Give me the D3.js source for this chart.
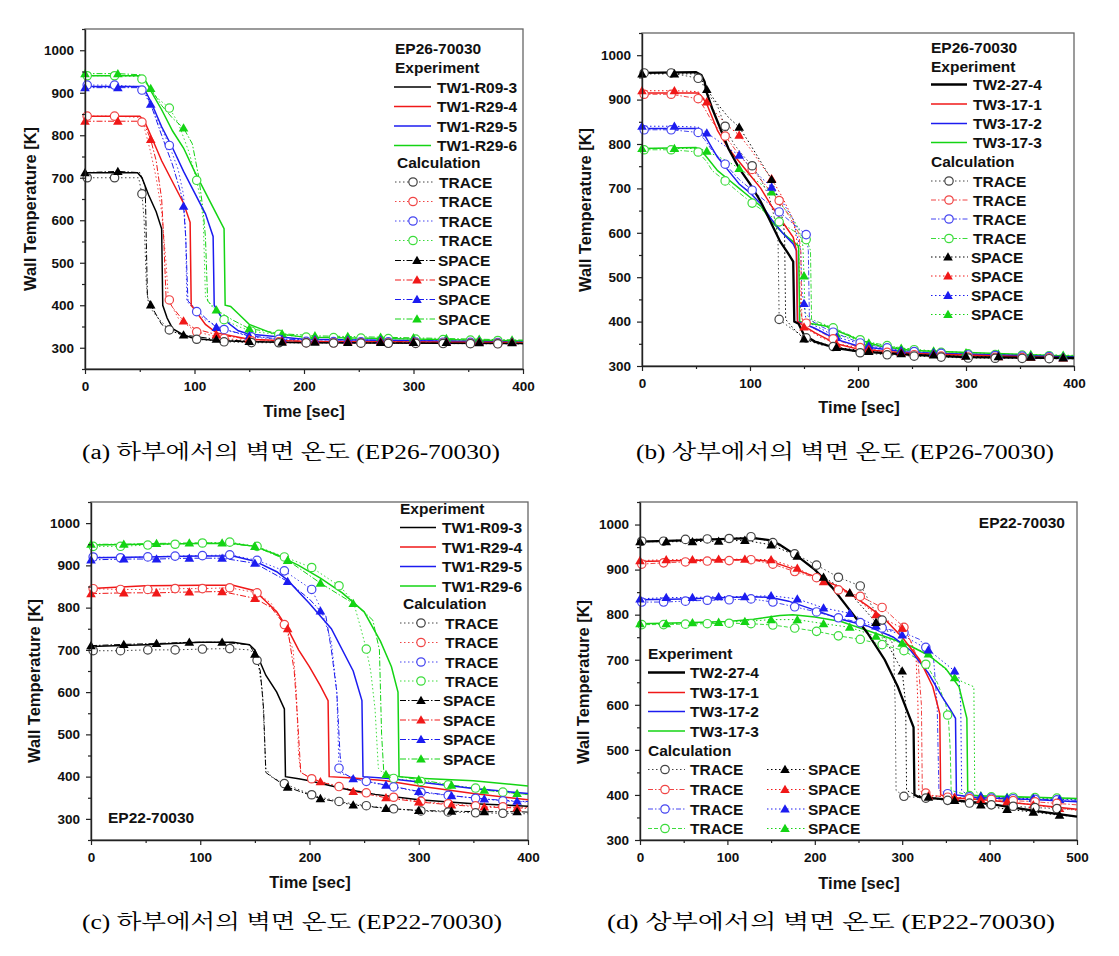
<!DOCTYPE html>
<html><head><meta charset="utf-8">
<script src="https://cdn.jsdelivr.net/npm/d3@7"></script>
<style>
body{margin:0;background:#fff}
svg{display:block}
text{font-family:"Liberation Sans",Arial,sans-serif;font-weight:bold;fill:#111}
.cap{font-family:"Liberation Serif","Noto Serif CJK KR","Noto Sans CJK KR",serif;font-weight:normal;fill:#000}
</style></head>
<body><svg id="c" width="1119" height="956"></svg>
<script>
// ---------------- DATA ----------------
const xTicks400 = [0,100,200,300,400];
const xTicks500 = [0,100,200,300,400,500];
const yTicks = [300,400,500,600,700,800,900,1000];
const namesLower = ["TW1-R09-3","TW1-R29-4","TW1-R29-5","TW1-R29-6"];
const namesUpper = ["TW2-27-4","TW3-17-1","TW3-17-2","TW3-17-3"];
const calcNames = ["TRACE","SPACE"];
const captions = ["(a) 하부에서의 벽면 온도 (EP26-70030)","(b) 상부에서의 벽면 온도 (EP26-70030)",
                  "(c) 하부에서의 벽면 온도 (EP22-70030)","(d) 상부에서의 벽면 온도 (EP22-70030)"];

// Panel (a): EP26-70030 lower
const aExp = [
 [[0,712],[48,712],[52,700],[58,660],[65,620],[70,580],[71,400],[75,370],[80,345],[90,330],[100,322],[120,317],[150,314],[200,312],[400,310]],
 [[0,845],[50,845],[54,835],[60,800],[70,740],[80,690],[90,640],[96,595],[97,400],[100,390],[110,355],[120,335],[150,320],[200,315],[400,312]],
 [[0,915],[50,915],[55,905],[60,880],[70,820],[80,770],[90,715],[100,665],[110,615],[117,562],[118,400],[125,370],[140,340],[150,332],[200,320],[400,313]],
 [[0,940],[52,940],[56,925],[60,905],[70,860],[80,810],[90,770],[100,715],[110,665],[120,615],[127,580],[128,400],[133,397],[140,380],[150,355],[170,335],[200,325],[400,316]]
];
const aTrace = [
 [[0,700],[27,700],[49,700],[52,662],[54,600],[56,450],[58,400],[65,375],[77,342],[90,328],[102,320],[127,314],[153,312],[400,309]],
 [[0,845],[27,845],[50,842],[54,820],[60,760],[65,700],[70,620],[74,500],[76,420],[78,405],[85,370],[101,338],[127,322],[153,316],[200,312],[400,310]],
 [[0,918],[27,918],[50,914],[55,895],[62,860],[70,815],[77,776],[85,720],[90,660],[92,560],[93,410],[96,400],[102,385],[110,365],[127,343],[153,325],[200,315],[400,312]],
 [[0,940],[27,940],[50,938],[58,915],[65,890],[77,864],[85,830],[95,760],[102,694],[106,640],[108,600],[110,420],[115,400],[127,366],[140,350],[153,338],[200,325],[400,316]]
];
const aSpace = [
 [[0,712],[30,715],[50,712],[55,680],[57,420],[60,401],[70,355],[80,338],[90,330],[120,320],[150,315],[180,313],[400,312]],
 [[0,833],[30,833],[52,833],[56,815],[60,790],[65,740],[70,650],[72,550],[74,420],[80,395],[90,363],[100,345],[120,331],[150,320],[180,316],[400,313]],
 [[0,912],[30,912],[52,912],[56,895],[60,873],[70,800],[80,730],[88,660],[90,633],[92,560],[94,410],[100,395],[110,370],[120,348],[150,328],[180,320],[400,314]],
 [[0,945],[30,945],[52,942],[56,925],[60,910],[70,870],[80,840],[90,817],[98,780],[104,700],[108,620],[110,560],[112,410],[120,389],[135,365],[150,345],[180,333],[210,328],[400,318]]
];

// Panel (b): EP26-70030 upper
const bExp = [
 [[0,960],[50,962],[55,955],[58,940],[60,915],[65,880],[70,850],[80,790],[90,745],[100,710],[110,670],[120,620],[128,580],[135,555],[140,535],[141,400],[145,395],[150,370],[160,355],[180,340],[200,333],[250,325],[300,320],[400,318]],
 [[0,915],[52,915],[56,905],[60,890],[70,830],[80,790],[90,760],[100,730],[110,700],[120,660],[130,625],[140,590],[143,560],[144,400],[150,390],[160,375],[180,350],[200,338],[250,328],[400,318]],
 [[0,835],[52,835],[58,820],[65,790],[70,770],[80,740],[90,710],[100,690],[110,665],[120,630],[130,600],[140,575],[143,560],[144,400],[150,395],[160,385],[180,360],[200,345],[250,330],[400,320]],
 [[0,790],[50,792],[55,785],[60,770],[70,740],[80,720],[90,700],[100,680],[110,660],[120,625],[130,600],[140,580],[145,570],[146,400],[150,398],[170,390],[180,380],[200,360],[220,345],[250,335],[400,322]]
];
const bTrace = [
 [[0,960],[27,960],[52,948],[56,935],[62,910],[70,885],[76,845],[85,800],[95,770],[102,751],[110,720],[118,680],[124,620],[126,580],[127,405],[135,390],[150,365],[175,345],[201,330],[228,325],[254,322],[300,318],[400,316]],
 [[0,912],[27,912],[52,902],[58,880],[65,850],[78,815],[90,775],[103,740],[115,705],[128,670],[138,630],[145,600],[147,560],[148,405],[155,390],[178,360],[204,340],[229,330],[254,325],[280,322],[305,320],[400,318]],
 [[0,832],[27,832],[52,826],[58,810],[65,785],[78,752],[90,720],[103,694],[115,670],[128,645],[140,620],[152,596],[154,560],[155,405],[165,390],[178,375],[204,350],[229,340],[254,332],[300,325],[400,320]],
 [[0,787],[27,787],[52,782],[60,760],[65,740],[78,715],[90,690],[103,665],[115,645],[128,623],[140,605],[150,590],[153,582],[156,560],[157,405],[178,385],[204,357],[229,345],[254,336],[280,330],[305,327],[400,322]]
];
const bSpace = [
 [[0,958],[30,958],[52,958],[60,923],[70,890],[80,860],[90,838],[100,800],[110,760],[120,720],[128,660],[132,600],[133,405],[140,385],[150,361],[165,348],[180,342],[210,333],[240,328],[300,322],[400,318]],
 [[0,920],[30,920],[52,918],[60,895],[70,865],[80,840],[90,820],[100,790],[110,755],[120,722],[130,680],[140,630],[145,560],[147,420],[150,388],[165,365],[180,350],[210,338],[240,330],[300,322],[400,318]],
 [[0,840],[30,840],[52,838],[60,825],[70,808],[80,790],[90,775],[100,750],[110,725],[120,703],[130,670],[140,630],[147,560],[148,470],[150,441],[152,400],[165,385],[180,365],[210,345],[240,335],[300,325],[400,320]],
 [[0,790],[30,790],[52,790],[60,784],[70,772],[80,760],[90,745],[100,728],[110,710],[120,692],[130,660],[140,630],[145,610],[149,570],[150,503],[151,420],[158,400],[170,390],[180,372],[210,352],[240,340],[270,334],[300,330],[330,327],[400,324]]
];

// Panel (c): EP22-70030 lower
const cExp = [
 [[0,708],[50,712],[100,718],[130,718],[145,712],[150,700],[155,670],[160,640],[170,600],[177,560],[178,400],[190,395],[200,390],[230,372],[260,358],[300,345],[350,336],[400,330]],
 [[0,845],[50,852],[100,853],[130,853],[150,840],[160,815],[170,790],[180,750],[190,700],[200,660],[210,615],[217,580],[218,400],[240,397],[270,390],[300,378],[350,360],[400,345]],
 [[0,918],[50,920],[100,922],[130,922],[150,910],[170,885],[180,865],[200,810],[220,750],[240,650],[248,580],[249,400],[270,396],[300,387],[350,372],[400,360]],
 [[0,948],[50,950],[100,952],[130,952],[150,945],[170,925],[190,900],[210,870],[230,835],[250,790],[265,720],[275,660],[281,600],[282,400],[300,396],[350,390],[400,378]]
];
const cTrace = [
 [[0,698],[26,698],[51,700],[77,700],[102,702],[127,703],[145,700],[150,690],[153,668],[157,600],[160,420],[165,400],[178,382],[204,355],[229,340],[255,330],[280,323],[306,318],[331,316],[357,314],[382,313],[400,312]],
 [[0,845],[26,843],[51,843],[77,845],[102,845],[127,847],[152,835],[165,810],[177,760],[185,700],[188,600],[190,450],[192,410],[202,395],[229,375],[255,360],[280,350],[306,340],[331,335],[357,330],[382,328],[400,327]],
 [[0,920],[26,918],[51,920],[77,922],[102,923],[127,925],[152,912],[177,887],[202,843],[210,800],[220,720],[225,600],[227,420],[228,408],[253,388],[278,375],[304,362],[329,355],[355,348],[380,342],[400,340]],
 [[0,945],[26,945],[51,948],[77,950],[102,953],[127,955],[152,945],[177,920],[202,895],[228,850],[240,815],[246,760],[252,702],[256,650],[260,560],[263,420],[270,400],[278,395],[304,388],[329,380],[355,372],[380,362],[400,358]]
];
const cSpace = [
 [[0,710],[30,713],[60,715],[90,718],[120,718],[145,712],[150,690],[155,650],[158,560],[160,410],[165,400],[180,375],[210,348],[240,333],[270,325],[300,320],[330,318],[360,317],[390,317],[400,316]],
 [[0,833],[30,835],[60,835],[90,837],[120,838],[150,822],[165,800],[180,750],[186,650],[189,540],[192,410],[200,398],[210,388],[240,365],[270,350],[300,340],[330,333],[360,328],[390,326],[400,325]],
 [[0,913],[30,915],[60,915],[90,917],[120,917],[150,905],[180,862],[200,820],[210,792],[215,780],[220,700],[225,600],[228,450],[230,410],[240,395],[270,380],[300,365],[330,355],[360,347],[390,342],[400,341]],
 [[0,950],[30,950],[60,952],[90,953],[120,953],[150,945],[180,912],[210,858],[240,810],[250,790],[258,770],[264,700],[266,500],[268,410],[270,405],[300,393],[330,380],[360,368],[390,360],[400,358]]
];

// Panel (d): EP22-70030 upper
const dExp = [
 [[0,962],[50,965],[100,968],[130,970],[150,965],[160,955],[180,930],[200,900],[220,860],[240,810],[260,760],[280,700],[295,640],[305,590],[313,550],[314,400],[320,395],[350,390],[400,380],[450,365],[500,352]],
 [[0,918],[50,920],[100,922],[130,922],[150,918],[170,905],[200,885],[230,860],[260,820],[280,790],[300,750],[320,700],[335,640],[343,580],[344,400],[360,393],[400,388],[450,378],[500,368]],
 [[0,833],[50,835],[100,838],[130,840],[150,838],[170,830],[200,810],[230,790],[260,775],[290,750],[310,720],[330,670],[345,620],[355,590],[361,570],[362,400],[380,395],[400,393],[450,390],[500,385]],
 [[0,780],[50,782],[100,785],[130,790],[160,798],[175,800],[200,795],[230,785],[260,765],[290,745],[310,730],[330,710],[350,680],[365,640],[374,570],[375,400],[390,398],[450,395],[500,392]]
];
const dTrace = [
 [[0,963],[27,963],[52,967],[77,968],[102,969],[127,973],[150,962],[178,934],[202,910],[227,883],[253,863],[265,820],[280,780],[290,730],[292,600],[293,410],[302,397],[327,393],[352,388],[377,382],[402,378],[450,372],[500,368]],
 [[0,912],[27,915],[52,917],[77,919],[102,920],[127,922],[152,912],[178,895],[202,882],[227,855],[253,840],[278,815],[302,772],[310,740],[318,700],[322,600],[323,410],[330,400],[352,395],[377,392],[402,390],[450,385],[500,378]],
 [[0,828],[27,828],[52,830],[77,832],[102,833],[127,835],[152,828],[178,817],[202,806],[227,793],[253,782],[278,770],[302,760],[320,745],[330,720],[336,700],[340,600],[342,410],[353,402],[380,395],[400,393],[500,388]],
 [[0,778],[27,778],[52,779],[77,780],[102,781],[127,780],[152,777],[178,770],[202,763],[227,753],[253,745],[278,733],[302,720],[327,690],[340,650],[350,600],[353,566],[355,500],[356,410],[378,398],[400,396],[500,392]]
];
const dSpace = [
 [[0,962],[30,962],[60,962],[90,963],[120,965],[150,955],[180,930],[210,883],[240,848],[270,783],[300,675],[304,600],[305,410],[315,400],[330,395],[360,388],[390,378],[420,368],[450,362],[480,355],[500,352]],
 [[0,920],[30,922],[60,922],[90,923],[120,923],[150,922],[180,903],[210,873],[240,848],[270,800],[300,770],[310,740],[316,700],[318,600],[319,410],[330,398],[360,395],[390,390],[420,385],[450,378],[480,370],[500,366]],
 [[0,835],[30,838],[60,838],[90,840],[120,840],[150,842],[180,835],[210,815],[240,803],[270,775],[300,755],[330,722],[360,675],[365,660],[367,600],[368,410],[375,400],[390,397],[420,393],[450,392],[480,390],[500,389]],
 [[0,780],[30,780],[60,782],[90,783],[120,785],[150,789],[180,789],[210,780],[240,772],[270,752],[300,737],[330,713],[360,660],[370,650],[382,640],[383,410],[390,398],[420,395],[450,393],[480,390],[500,390]]
];

// ---------------- STYLE ----------------
const colors = ["#000000","#f01818","#1c1cf0","#14d414"];
const traceColors = ["#444444","#f04545","#4545f0","#3cdc3c"];
const svg = d3.select("#c");

const panels = [
 {box:[85,523,29,369], xd:[0,400], yd:[250,1050], xt:xTicks400, exp:aExp, trace:aTrace, space:aSpace, names:namesLower,
  thick:false, traceDash:["1.5,2.5","1.5,2.5","1.5,2.5","1.5,2.5"], spaceDash:["6,2,1.5,2","6,2,1.5,2","6,2,1.5,2","6,2,1.5,2"],
  yTitle:[30,209], xTitle:[304,411], cap:[291,452,418], leg:"A"},
 {box:[642,1074,33,366], xd:[0,400], yd:[300,1050], xt:xTicks400, exp:bExp, trace:bTrace, space:bSpace, names:namesUpper,
  thick:true, traceDash:["1.5,2.5","5,2,1.5,2","5,2,1.5,2","5,2,1.5,2"], spaceDash:["1.5,2.5","1.5,2.5","1.5,2.5","1.5,2.5"],
  yTitle:[585,210], xTitle:[859,407], cap:[845,452,418], leg:"B"},
 {box:[91,528,502,840], xd:[0,400], yd:[250,1050], xt:xTicks400, exp:cExp, trace:cTrace, space:cSpace, names:namesLower,
  thick:false, traceDash:["1.5,2.5","1.5,2.5","1.5,2.5","1.5,2.5"], spaceDash:["6,2,1.5,2","6,2,1.5,2","6,2,1.5,2","6,2,1.5,2"],
  yTitle:[34,681], xTitle:[310,882], cap:[292,922,420], leg:"C"},
 {box:[640,1077,502,840], xd:[0,500], yd:[300,1050], xt:xTicks500, exp:dExp, trace:dTrace, space:dSpace, names:namesUpper,
  thick:true, traceDash:["1.5,2.5","5,2,1.5,2","5,2,1.5,2,1.5,2","4,2"], spaceDash:["1.5,2.5","1.5,2.5","1.5,2.5","1.5,2.5"],
  yTitle:[583,682], xTitle:[859,883], cap:[831,922,448], leg:"D"}
];

function interp(pts, t){
  for(let i=0;i<pts.length-1;i++){
    const a=pts[i], b=pts[i+1];
    if(b[0]>a[0] && t>=a[0] && t<=b[0]) return a[1]+(b[1]-a[1])*(t-a[0])/(b[0]-a[0]);
  }
  return pts[pts.length-1][1];
}
const tri = d3.symbol().type(d3.symbolTriangle).size(40);

function drawCircle(g,x,y,ci){
  g.append("circle").attr("cx",x).attr("cy",y).attr("r",4.2)
   .attr("fill","#fff").attr("stroke",traceColors[ci]).attr("stroke-width",1.2);
}
function drawTri(g,x,y,ci){
  g.append("path").attr("d",tri()).attr("transform",`translate(${x},${y+0.8})`).attr("fill",colors[ci]);
}

panels.forEach((p,pi)=>{
  const [x0,x1,y0,y1]=p.box;
  const x=d3.scaleLinear().domain(p.xd).range([x0,x1]);
  const y=d3.scaleLinear().domain(p.yd).range([y1,y0]);
  const g=svg.append("g");
  g.append("rect").attr("x",x0).attr("y",y0).attr("width",x1-x0).attr("height",y1-y0)
    .attr("fill","none").attr("stroke","#666").attr("stroke-width",1.3);
  const line=d3.line().x(d=>x(d[0])).y(d=>y(d[1]));
  const layer=g.append("g");
  [3,2,1,0].forEach(ci=>{
    layer.append("path").attr("d",line(p.trace[ci])).attr("fill","none").attr("stroke",traceColors[ci])
      .attr("stroke-width",1).attr("stroke-dasharray",p.traceDash[ci]);
    layer.append("path").attr("d",line(p.space[ci])).attr("fill","none").attr("stroke",colors[ci])
      .attr("stroke-width",1).attr("stroke-dasharray",p.spaceDash[ci]);
  });
  [3,2,1,0].forEach(ci=>{
    layer.append("path").attr("d",line(p.exp[ci])).attr("fill","none").attr("stroke",colors[ci])
      .attr("stroke-width",(p.thick&&ci===0)?2.3:1.5);
  });
  const xmax=p.xd[1];
  [3,2,1,0].forEach(ci=>{
    for(let t=2;t<xmax;t+=25) drawCircle(layer,x(t),y(interp(p.trace[ci],t)),ci);
    for(let t=0;t<xmax;t+=30) drawTri(layer,x(t),y(interp(p.space[ci],t)),ci);
  });
  const yMinor=d3.range(p.yd[0],p.yd[1]+1,50).filter(v=>v%100!==0);
  const xMinor=d3.range(50,p.xd[1],100);
  const ax=g.append("g").attr("transform",`translate(0,${y1})`)
    .call(d3.axisBottom(x).tickValues(p.xt).tickSize(5).tickSizeOuter(0).tickPadding(7).tickFormat(d3.format("d")));
  const axm=g.append("g").attr("transform",`translate(0,${y1})`)
    .call(d3.axisBottom(x).tickValues(xMinor).tickSize(3).tickSizeOuter(0).tickFormat(""));
  const ay=g.append("g").attr("transform",`translate(${x0},0)`)
    .call(d3.axisLeft(y).tickValues(yTicks).tickSize(5).tickSizeOuter(0).tickPadding(6).tickFormat(d3.format("d")));
  const aym=g.append("g").attr("transform",`translate(${x0},0)`)
    .call(d3.axisLeft(y).tickValues(yMinor).tickSize(3).tickSizeOuter(0).tickFormat(""));
  [ax,axm,ay,aym].forEach(a=>{
    a.selectAll("path.domain").attr("stroke","#222").attr("stroke-width",1.4);
    a.selectAll(".tick line").attr("stroke","#222").attr("stroke-width",1.2);
    a.selectAll("text").attr("font-size",13.5).attr("font-family","Liberation Sans, Arial, sans-serif").attr("font-weight","bold").attr("fill","#111");
  });
  [axm,aym].forEach(a=>a.select("path.domain").remove());
  g.append("text").attr("transform",`translate(${p.yTitle[0]},${p.yTitle[1]}) rotate(-90)`)
    .attr("text-anchor","middle").attr("dominant-baseline","central").attr("font-size",16.5).text("Wall Temperature [K]");
  g.append("text").attr("x",p.xTitle[0]).attr("y",p.xTitle[1]).attr("text-anchor","middle")
    .attr("dominant-baseline","central").attr("font-size",16.5).text("Time [sec]");
  g.append("text").attr("class","cap").attr("x",p.cap[0]).attr("y",p.cap[1]).attr("text-anchor","middle")
    .attr("dominant-baseline","central").attr("font-size",20).attr("textLength",p.cap[2]).attr("lengthAdjust","spacingAndGlyphs")
    .text(captions[pi]);
});

// ---------------- LEGENDS ----------------
function ltext(x,y,s,anchor){
  svg.append("text").attr("x",x).attr("y",y).attr("dominant-baseline","central").attr("font-size",15.5)
    .attr("text-anchor",anchor||"start").text(s);
}
function lline(xa,xb,y,col,w,dash){
  const l=svg.append("line").attr("x1",xa).attr("x2",xb).attr("y1",y).attr("y2",y).attr("stroke",col).attr("stroke-width",w);
  if(dash) l.attr("stroke-dasharray",dash);
}
function legendBlock(cfg,p){
  if(cfg.title) ltext(cfg.title[0],cfg.title[1],cfg.title[2]);
  ltext(cfg.exp[0],cfg.exp[1],"Experiment");
  cfg.expRows.forEach((yy,i)=>{
    lline(cfg.expLine[0],cfg.expLine[1],yy,colors[i],(p.thick&&i===0)?2.3:1.5);
    ltext(cfg.expText,yy,p.names[i]);
  });
  ltext(cfg.calc[0],cfg.calc[1],"Calculation");
  cfg.traceRows.forEach((yy,i)=>{
    lline(cfg.trLine[0],cfg.trLine[1],yy,traceColors[i],1,p.traceDash[i]);
    drawCircle(svg,cfg.trMark,yy,i);
    ltext(cfg.trText,yy,calcNames[0]);
  });
  cfg.spaceRows.forEach((yy,i)=>{
    lline(cfg.spLine[0],cfg.spLine[1],yy,colors[i],1,p.spaceDash[i]);
    drawTri(svg,cfg.spMark,yy,i);
    ltext(cfg.spText,yy,calcNames[1]);
  });
}
legendBlock({title:[395,48,"EP26-70030"],exp:[395,67],expRows:[87,106.5,126,145.5],expLine:[394,431],expText:[437],
  calc:[397,162.5],traceRows:[182,201.5,221,240.5],trLine:[395,435],trMark:413,trText:439,
  spaceRows:[260.5,280,299.5,319],spLine:[395,435],spMark:417,spText:438},panels[0]);
legendBlock({title:[931,47,"EP26-70030"],exp:[931,66],expRows:[84.5,104,123.5,142.5],expLine:[931,967],expText:[973],
  calc:[931,161.5],traceRows:[181,200,219,238.5],trLine:[931,968],trMark:949,trText:973,
  spaceRows:[257,276,295.5,314.5],spLine:[931,968],spMark:948,spText:971},panels[1]);
legendBlock({exp:[400,508],expRows:[527.5,547,566.5,586],expLine:[400,436],expText:[442],
  calc:[403,603.5],traceRows:[623,642.5,662,681],trLine:[400,440],trMark:421,trText:445,
  spaceRows:[700.5,720,739.5,759],spLine:[400,440],spMark:421,spText:443},panels[2]);
legendBlock({exp:[648,653],expRows:[672.5,692.5,711.5,731],expLine:[648,685],expText:[690],
  calc:[648,750],traceRows:[769.5,789.5,809,828.5],trLine:[648,685],trMark:665,trText:690,
  spaceRows:[769.5,789.5,809,828.5],spLine:[767,806],spMark:785,spText:808},panels[3]);
ltext(108,817,"EP22-70030");
ltext(1065,522,"EP22-70030","end");
</script></body></html>
